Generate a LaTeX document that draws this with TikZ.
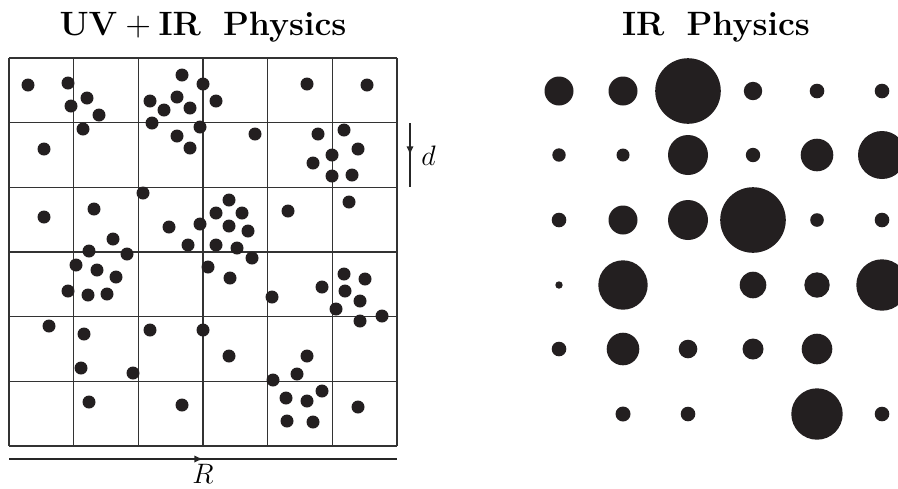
\documentclass[tikz,border=0pt]{standalone}
\usepackage{amsmath}
\usepackage{xcolor}
\usetikzlibrary{arrows.meta,decorations.markings}
\definecolor{inkblack}{HTML}{231F20}

\begin{document}
\begin{tikzpicture}[
  x=0.015cm, y=-0.015cm,
  title/.style={font=\Large, anchor=base, inner sep=0pt},
  lbl/.style={font=\large, inner sep=0pt},
  gridline/.style={line width=0.7pt, black!80},
  dot/.style={fill=inkblack},
  axisline/.style={line width=0.6pt, black!85},
  midarrow/.style={postaction={decorate},
    decoration={markings, mark=at position 0.5 with {\arrow{Latex[length=1.3mm,width=1.1mm]}}}},
]
\useasboundingbox (0,0) rectangle (898,488);

% titles
\node[title] (tuv) at (203,35) {$\mathbf{UV}+\mathbf{IR}$\ \ \textbf{Physics}};
\node[title] (tir) at (716,35) {\textbf{IR}\ \ \textbf{Physics}};

% (a) lattice of cells with microscopic dots
\foreach \i in {0,...,6} {
  \draw[gridline] ({9+64.667*\i},58) -- ({9+64.667*\i},446);
  \draw[gridline] (9,{58+64.667*\i}) -- (397,{58+64.667*\i});
}
\foreach \px/\py in {28/85, 68/83, 87/98, 71/106, 99/115, 83/129, 44/149,
  182/75, 203/84, 150/101, 164/110, 177/97, 190/108, 216/101, 152/123,
  200/127, 177/136, 190/148, 143/193, 44/217, 94/209, 113/239, 89/251,
  127/254, 169/227, 200/224, 216/213, 188/245, 216/245, 255/134, 307/84,
  367/85, 318/134, 344/130, 358/149, 332/155, 313/163, 332/176, 352/175,
  349/202, 288/211, 229/200, 242/213, 229/226, 248/231, 237/248, 252/258,
  76/265, 97/270, 116/277, 68/291, 88/295, 107/294, 208/267, 49/326,
  84/334, 150/330, 203/330, 81/368, 133/373, 89/402, 182/405, 230/278,
  272/297, 322/287, 344/274, 365/279, 345/291, 360/301, 336/309, 360/321,
  382/316, 229/356, 307/356, 297/374, 273/380, 322/391, 286/398, 307/401,
  358/407, 287/421, 313/422}
  \fill[dot] (\px,\py) circle[radius=6.5];

% scale arrows
\coordinate (dtop) at (410,123);
\coordinate (dbot) at (410,187);
\draw[axisline, midarrow] (dtop) -- (dbot);
\node[lbl, anchor=west] (dlab) at (421,156) {$d$};

\coordinate (Rleft) at (9,459);
\coordinate (Rright) at (397,459);
\draw[axisline, midarrow] (Rleft) -- (Rright);
\node[lbl, anchor=north] (Rlab) at (203,464) {$R$};

% (b) coarse-grained blobs
\foreach \cx/\cy/\r in {
  559/91/14.5, 623/91/14.5, 688/91/32.8, 753/91/9.2, 817/91/7.3, 882/91/7.3,
  559/155/6.7, 623/155/6.5, 688/155/20, 753/155/7.2, 817/155/16.3, 882/155/24,
  559/220/7.3, 623/220/14.5, 688/220/20, 753/220/32.8, 817/220/6.8, 882/220/7.3,
  559/285/3.7, 623/285/24.7, 753/285/13.3, 817/285/12.7, 882/285/25.7,
  559/349/7.3, 623/349/16.3, 688/349/9.3, 753/349/10.5, 817/349/15.3,
  623/414/7.5, 688/414/7.3, 817/414/25.7, 882/414/7.3}
  \fill[dot] (\cx,\cy) circle[radius=\r];
\end{tikzpicture}
\end{document}
